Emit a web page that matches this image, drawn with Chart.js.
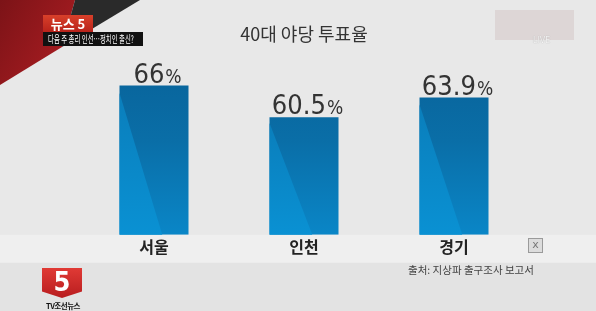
<!DOCTYPE html>
<html>
<head>
<meta charset="utf-8">
<script src="https://cdn.jsdelivr.net/npm/chart.js@4/dist/chart.umd.min.js"></script>
<style>
  html, body { margin: 0; padding: 0; background: #e8e8e8; }
  #wrap { position: relative; width: 596px; height: 311px; overflow: hidden; }
  canvas { position: absolute; left: 0; top: 0; }
  .ov { position: absolute; font-family: "Noto Sans CJK KR", sans-serif; }
  #red { left: 0; top: 0; width: 80px; height: 90px; background: linear-gradient(120deg, #7c1317, #b31f24);
         clip-path: polygon(0 0, 75px 0, 62px 47px, 0 85px); }
  #dark { left: 0; top: 0; width: 145px; height: 50px; background: #2a2a2a;
          clip-path: polygon(75px 0, 140px 0, 62px 47px); }
  #news { left: 43px; top: 15px; width: 50px; height: 17px; background: linear-gradient(#d8402a, #b9231b);
          color: #fff; font-weight: bold; font-size: 13px; line-height: 17px; text-align: center; }
  #cap { left: 43px; top: 32px; width: 100px; height: 14px; background: #111; color: #fff;
         font-size: 10px; line-height: 14px; white-space: nowrap; overflow: hidden; }
  #cap span { display: inline-block; transform: scaleX(0.64); transform-origin: 0 50%; margin-left: 5px; }
  #live { left: 495px; top: 10px; width: 79px; height: 30px; background: #ddd6d6; }
  #livet { left: 533px; top: 36px; font-size: 8px; color: #f4f4f4; text-shadow: 0 0 1px #999; font-family: "DejaVu Sans"; }
  #xbox { left: 528px; top: 238px; width: 13px; height: 13px; border: 1px solid #9a9a9a; background: #dcdcdc;
          color: #777; font-size: 11px; line-height: 12px; text-align: center; font-family: "DejaVu Sans"; }
  #src { left: 408px; top: 262px; font-size: 10.5px; color: #444; white-space: nowrap; }
  #logo { left: 42px; top: 268px; width: 40px; height: 30px; background: linear-gradient(#e03a35, #b81d1f);
          clip-path: polygon(0 0, 100% 0, 100% 78%, 50% 100%, 0 78%); color: #fff; font-weight: bold;
          font-size: 27px; line-height: 28px; text-align: center; font-family: "DejaVu Sans Condensed"; }
  #logot { left: 40px; top: 300px; width: 46px; font-size: 7.5px; font-weight: bold; color: #111; text-align: center; letter-spacing: -0.5px; }
</style>
</head>
<body>
<div id="wrap">
  <canvas id="myChart" width="596" height="311"></canvas>
  <div class="ov" id="red"></div>
  <div class="ov" id="dark"></div>
  <div class="ov" id="news">뉴스 5</div>
  <div class="ov" id="cap"><span>다음 주 총리 인선…정치인 출신?</span></div>
  <div class="ov" id="live"></div>
  <div class="ov" id="livet">LIVE</div>
  <div class="ov" id="xbox">x</div>
  <div class="ov" id="src">출처: 지상파 출구조사 보고서</div>
  <div class="ov" id="logo">5</div>
  <div class="ov" id="logot">TV조선뉴스</div>
</div>
<script>
  var regions = ["서울", "인천", "경기"];
  var turnout = [66, 60.5, 63.9];
  var chartTitle = "40대 야당 투표율";
  var yMin = 40, yMax = 70;

  /* page background + lighter label band */
  var bgPlugin = {
    id: 'bg',
    beforeDraw: function(chart) {
      var c = chart.ctx, a = chart.chartArea;
      c.save();
      c.fillStyle = "#e8e8e8";
      c.fillRect(0, 0, chart.width, chart.height);
      c.fillStyle = "#efefef";
      c.fillRect(0, a.bottom, chart.width, 28);
      c.fillStyle = "#e3e3e3";
      c.fillRect(0, a.bottom + 28, chart.width, chart.height - a.bottom - 28);
      c.restore();
    }
  };

  /* lighter diagonal shade on each bar + value labels */
  var barDeco = {
    id: 'barDeco',
    afterDatasetsDraw: function(chart) {
      var c = chart.ctx;
      var meta = chart.getDatasetMeta(0);
      meta.data.forEach(function(bar, i) {
        var left = bar.x - bar.width / 2;
        var h = bar.base - bar.y;
        c.save();
        var g = c.createLinearGradient(0, bar.y, 0, bar.base);
        g.addColorStop(0, "#0a7dba");
        g.addColorStop(1, "#0a91d3");
        c.fillStyle = g;
        c.beginPath();
        c.moveTo(left, bar.y + h * 0.05);
        c.lineTo(left + bar.width * 0.62, bar.base);
        c.lineTo(left, bar.base);
        c.closePath();
        c.fill();

        var num = String(turnout[i]);
        c.fillStyle = "#333";
        c.textBaseline = "alphabetic";
        c.font = '27px "DejaVu Sans Condensed"';
        var w1 = c.measureText(num).width;
        c.font = '19px "DejaVu Sans Condensed"';
        var w2 = c.measureText("%").width;
        var x0 = bar.x - (w1 + w2) / 2 + 3;
        c.font = '27px "DejaVu Sans Condensed"';
        c.fillText(num, x0, bar.y - 3);
        c.font = '19px "DejaVu Sans Condensed"';
        c.fillText("%", x0 + w1 + 1, bar.y - 3);
        c.restore();
      });
    }
  };

  var ctx = document.getElementById("myChart").getContext('2d');
  var myChart = new Chart(ctx, {
    type: 'bar',
    data: {
      labels: regions,
      datasets: [{
        data: turnout,
        base: yMin,
        backgroundColor: function(context) {
          var chart = context.chart;
          if (!chart.chartArea) return "#0a75b0";
          var g = chart.ctx.createLinearGradient(0, chart.chartArea.top, 0, chart.chartArea.bottom);
          g.addColorStop(0, "#08639a");
          g.addColorStop(0.45, "#0a6ea7");
          g.addColorStop(1, "#0a86c7");
          return g;
        },
        borderWidth: 0,
        barPercentage: 0.46,
        categoryPercentage: 1
      }]
    },
    options: {
      responsive: false,
      animation: false,
      layout: { padding: { left: 79, right: 67, top: 0, bottom: 51 } },
      plugins: {
        legend: { display: false },
        tooltip: { enabled: false },
        title: {
          display: true,
          text: chartTitle,
          color: "#333",
          font: { family: '"Noto Sans CJK KR"', size: 18, weight: 'normal' },
          padding: { top: 23, bottom: 18 }
        }
      },
      scales: {
        x: {
          grid: { display: false, drawTicks: false },
          border: { display: false },
          ticks: {
            color: "#222",
            padding: 3,
            font: { family: '"Noto Sans CJK KR"', size: 16, weight: 'bold' }
          }
        },
        y: {
          display: false,
          min: yMin,
          max: yMax
        }
      }
    },
    plugins: [bgPlugin, barDeco]
  });
</script>
</body>
</html>
